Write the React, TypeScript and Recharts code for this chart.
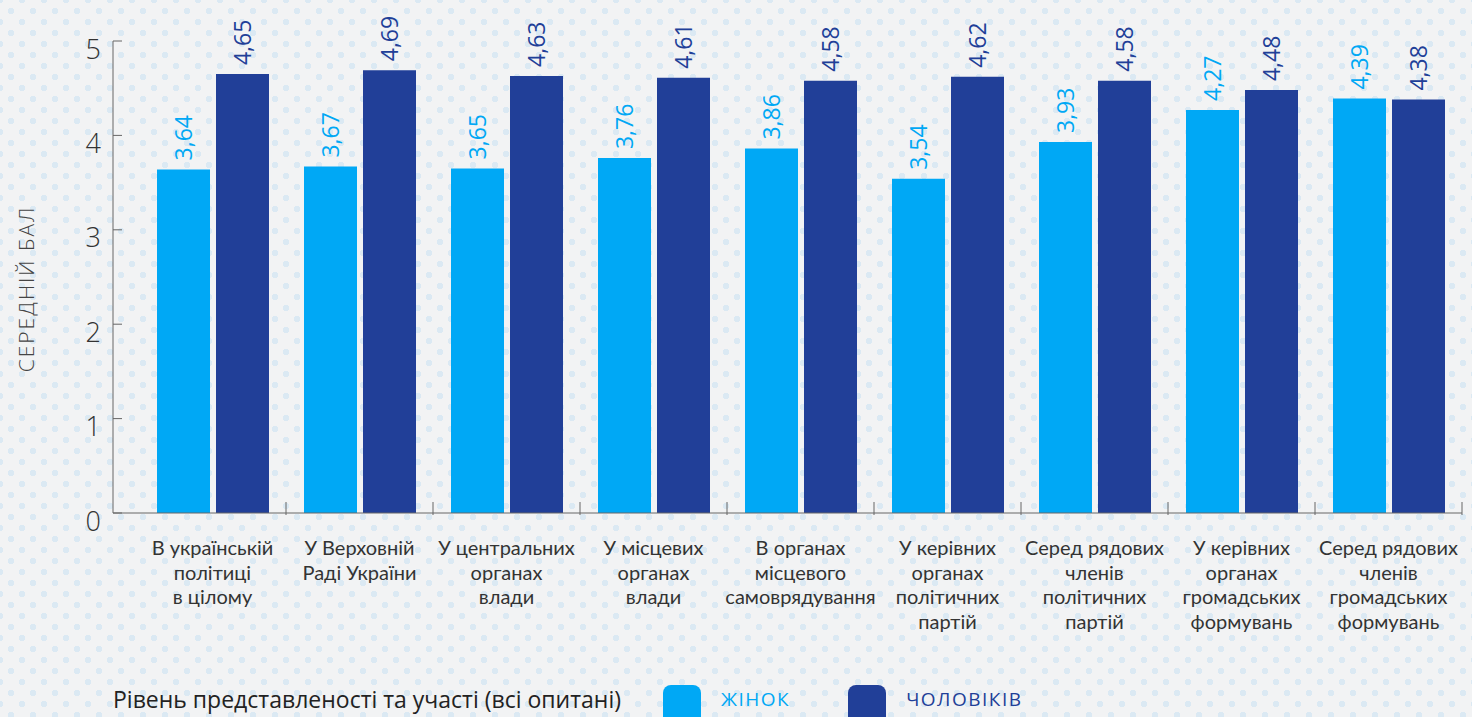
import React from "react";
import { BarChart, Bar, XAxis, YAxis, Legend, LabelList, Label } from "recharts";

const categories = [
  ["В українській", "політиці", "в цілому"],
  ["У Верховній", "Раді України"],
  ["У центральних", "органах", "влади"],
  ["У місцевих", "органах", "влади"],
  ["В органах", "місцевого", "самоврядування"],
  ["У керівних", "органах", "політичних", "партій"],
  ["Серед рядових", "членів", "політичних", "партій"],
  ["У керівних", "органах", "громадських", "формувань"],
  ["Серед рядових", "членів", "громадських", "формувань"],
];

const women = [3.64, 3.67, 3.65, 3.76, 3.86, 3.54, 3.93, 4.27, 4.39];
const men = [4.65, 4.69, 4.63, 4.61, 4.58, 4.62, 4.58, 4.48, 4.38];
const yTicks = [0, 1, 2, 3, 4, 5];

const LIGHT = "#00a8f5";
const DARK = "#213f98";
const FONT = "'Open Sans', 'Noto Sans', sans-serif";
const LABEL_FONT = "Lato, 'Open Sans', sans-serif";
const AXIS_X = 113;

const data = categories.map((lines, i) => ({
  name: lines.join(" "),
  women: women[i],
  men: men[i],
}));

const fmt = (v: number) => v.toFixed(2).replace(".", ",");

function valueLabel(color: string) {
  return (props: any) => {
    const { x, y, width, value } = props;
    const cx = x + width / 2;
    const ty = y - 9;
    return (
      <text
        x={cx}
        y={ty}
        transform={`rotate(-90 ${cx} ${ty})`}
        textAnchor="start"
        dominantBaseline="central"
        fill={color}
        fontSize={23}
        fontFamily={FONT}
      >
        {fmt(value)}
      </text>
    );
  };
}

function YTick(props: any) {
  const { y, payload } = props;
  return (
    <g>
      <line x1={AXIS_X} x2={AXIS_X + 9} y1={y} y2={y} stroke="#666" strokeWidth={1} />
      <text
        x={101}
        y={y + 7}
        textAnchor="end"
        dominantBaseline="central"
        fill="#333"
        fontSize={27}
        fontWeight={300}
        fontFamily={FONT}
      >
        {payload.value}
      </text>
    </g>
  );
}

function XTick(props: any) {
  const { x, y, payload, index } = props;
  const band = 147;
  const lines = categories[index] || [payload.value];
  return (
    <g>
      <line x1={x + band / 2} x2={x + band / 2} y1={y} y2={y - 13} stroke="#666" strokeWidth={1} />
      {lines.map((l: string, i: number) => (
        <text
          key={i}
          x={x}
          y={y + 40 + i * 24.5}
          textAnchor="middle"
          fill="#333"
          fontSize={20}
          fontFamily={LABEL_FONT}
        >
          {l}
        </text>
      ))}
    </g>
  );
}

function LegendContent() {
  const sq = (c: string) => (
    <div
      style={{
        width: 38,
        height: 32,
        background: c,
        borderRadius: "8px 8px 0 0",
        alignSelf: "flex-end",
      }}
    />
  );
  return (
    <div
      style={{
        display: "flex",
        alignItems: "center",
        height: 36,
        paddingLeft: 113,
        fontFamily: FONT,
      }}
    >
      <span style={{ fontSize: 23, color: "#222", marginRight: 42 }}>
        Рівень представленості та участі (всі опитані)
      </span>
      {sq(LIGHT)}
      <span style={{ fontSize: 19, color: LIGHT, letterSpacing: 1.5, marginLeft: 20, marginRight: 58 }}>ЖІНОК</span>
      {sq(DARK)}
      <span style={{ fontSize: 19, color: DARK, letterSpacing: 1.5, marginLeft: 20 }}>ЧОЛОВІКІВ</span>
    </div>
  );
}

export default function App() {
  return (
    <div
      style={{
        position: "absolute",
        left: 0,
        top: 0,
        width: 1472,
        height: 717,
        overflow: "hidden",
        backgroundColor: "#f2f3f4",
        backgroundImage:
          "radial-gradient(circle, #dbe9f3 3px, transparent 3.5px), radial-gradient(circle, #dbe9f3 3px, transparent 3.5px)",
        backgroundSize: "22px 22px",
        backgroundPosition: "0 0, 11px 11px",
      }}
    >
      <BarChart
        width={1472}
        height={717}
        data={data}
        margin={{ top: 41, right: 10, left: 0, bottom: 0 }}
        barSize={53}
        barGap={6}
      >
        <XAxis
          dataKey="name"
          height={168}
          padding={{ left: 26, right: 0 }}
          axisLine={{ stroke: "#666" }}
          tickLine={false}
          tickSize={0}
          tick={<XTick />}
          interval={0}
        />
        <YAxis
          width={113}
          domain={[0, 5]}
          ticks={yTicks}
          axisLine={{ stroke: "#666" }}
          tickLine={false}
          tickSize={0}
          tick={<YTick />}
        >
          <Label
            content={(p: any) => {
              const vb = p.viewBox || { x: 0, y: 41, width: 113, height: 472 };
              const cx = 26;
              const cy = vb.y + vb.height / 2 + 12;
              return (
                <text
                  x={cx}
                  y={cy}
                  transform={`rotate(-90 ${cx} ${cy})`}
                  textAnchor="middle"
                  dominantBaseline="central"
                  fill="#444"
                  fontSize={21}
                  fontWeight={300}
                  letterSpacing={2}
                  fontFamily={FONT}
                >
                  СЕРЕДНІЙ БАЛ
                </text>
              );
            }}
          />
        </YAxis>
        <Legend verticalAlign="bottom" align="left" content={<LegendContent />} />
        <Bar dataKey="women" name="Жінок" fill={LIGHT} isAnimationActive={false}>
          <LabelList dataKey="women" content={valueLabel(LIGHT)} />
        </Bar>
        <Bar dataKey="men" name="Чоловіків" fill={DARK} isAnimationActive={false}>
          <LabelList dataKey="men" content={valueLabel(DARK)} />
        </Bar>
      </BarChart>
    </div>
  );
}
